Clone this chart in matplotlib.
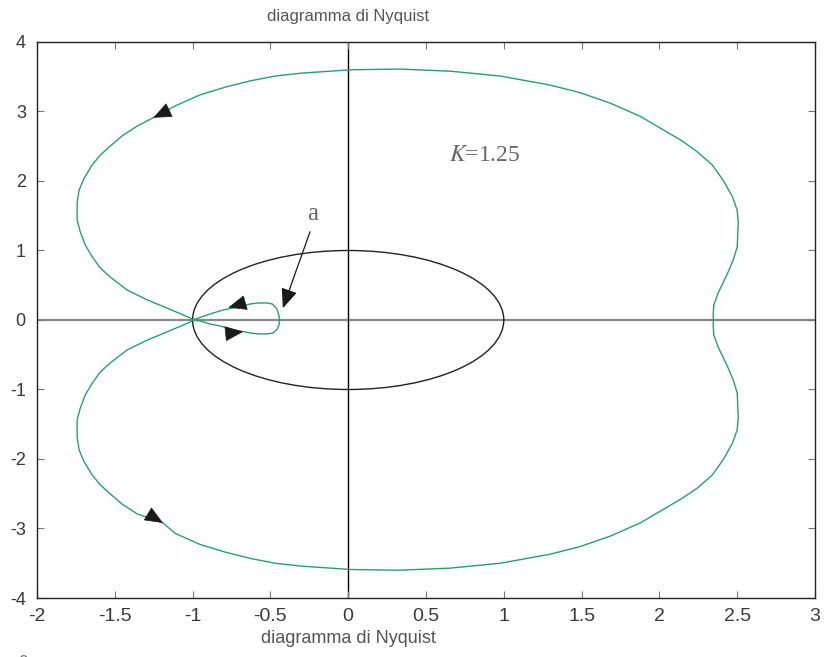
import matplotlib.pyplot as plt
from matplotlib.patches import Circle

# Data
upper_x = [-1.0, -1.015, -1.163, -1.292, -1.42, -1.53, -1.594, -1.645, -1.69, -1.722, -1.742,
           -1.742, -1.729, -1.697, -1.645, -1.594, -1.530, -1.452, -1.356, -1.253, -1.112,
           -0.951, -0.790, -0.630, -0.469, -0.308, 0.013, 0.334, 0.656, 0.977, 1.298, 1.491,
           1.684, 1.877, 2.037, 2.15, 2.243, 2.34, 2.41, 2.47, 2.50, 2.507, 2.50, 2.474, 2.44,
           2.378, 2.35, 2.346, 2.346]
upper_y = [0.0, 0.03, 0.17, 0.29, 0.43, 0.62, 0.75, 0.91, 1.08, 1.27, 1.44,
           1.68, 1.87, 2.04, 2.23, 2.37, 2.50, 2.65, 2.79, 2.91, 3.08,
           3.24, 3.35, 3.44, 3.51, 3.55, 3.60, 3.61, 3.58, 3.51, 3.38, 3.27,
           3.12, 2.93, 2.72, 2.57, 2.42, 2.23, 2.01, 1.77, 1.58, 1.40, 1.05, 0.86, 0.68,
           0.39, 0.22, 0.10, 0.0]
lower_x = [-1.0, -1.015, -1.163, -1.292, -1.42, -1.53, -1.594, -1.645, -1.69, -1.722, -1.742,
           -1.742, -1.729, -1.697, -1.645, -1.594, -1.530, -1.452, -1.356, -1.19, -1.112,
           -0.951, -0.790, -0.630, -0.469, -0.308, 0.013, 0.334, 0.656, 0.977, 1.298, 1.491,
           1.684, 1.877, 2.037, 2.15, 2.243, 2.34, 2.41, 2.47, 2.50, 2.507, 2.50, 2.474, 2.44,
           2.378, 2.35, 2.346, 2.346]
lower_y = [0.0, -0.03, -0.17, -0.29, -0.43, -0.62, -0.75, -0.91, -1.08, -1.27, -1.44,
           -1.68, -1.87, -2.04, -2.23, -2.37, -2.50, -2.65, -2.79, -2.92, -3.07,
           -3.23, -3.34, -3.43, -3.50, -3.54, -3.59, -3.60, -3.57, -3.50, -3.37, -3.26,
           -3.11, -2.92, -2.71, -2.56, -2.42, -2.23, -2.01, -1.77, -1.58, -1.40, -1.05, -0.86, -0.68,
           -0.39, -0.22, -0.10, 0.0]
loop_x = [-1.0, -0.868, -0.803, -0.739, -0.681, -0.630, -0.578, -0.521, -0.488, -0.469, -0.456,
          -0.450, -0.443, -0.443, -0.443, -0.456, -0.482, -0.521, -0.578, -0.630, -0.694,
          -0.758, -0.823, -0.887, -0.951, -1.0]
loop_y = [0.0, 0.10, 0.144, 0.173, 0.20, 0.23, 0.245, 0.245, 0.23, 0.19, 0.144,
          0.10, 0.043, 0.0, -0.058, -0.13, -0.187, -0.20, -0.20, -0.187, -0.158,
          -0.13, -0.086, -0.058, -0.014, 0.0]

# direction arrows on the curve: (tail, tip)
curve_arrows = [((-1.15, 3.02), (-1.253, 2.91)),
                ((-1.28, -2.80), (-1.19, -2.92)),
                ((-0.675, 0.24), (-0.77, 0.18)),
                ((-0.76, -0.19), (-0.675, -0.17))]

green = '#22a463'
gray_txt = '#3a3a3a'
narrow = ['Liberation Sans Narrow', 'DejaVu Sans Condensed', 'Liberation Sans', 'DejaVu Sans']

fig = plt.figure(figsize=(8.27, 6.57), dpi=100)
ax = fig.add_axes([0.0447, 0.0898, 0.9408, 0.8463])

ax.axhline(0, color='#888888', lw=1.6, zorder=1)
ax.axvline(0, color='black', lw=1.0, zorder=1)

ax.add_patch(Circle((0, 0), 1.0, fill=False, edgecolor='#222222', lw=1.0, zorder=2))

ax.plot(upper_x, upper_y, color=green, lw=1.0, zorder=3)
ax.plot(lower_x, lower_y, color=green, lw=1.0, zorder=3)
ax.plot(loop_x, loop_y, color=green, lw=1.0, zorder=3)

for tail, tip in curve_arrows:
    ax.annotate('', xy=tip, xytext=tail,
                arrowprops=dict(arrowstyle='-|>,head_length=0.6,head_width=0.25',
                                mutation_scale=20, color='#1a1a1a', lw=0.5,
                                shrinkA=0, shrinkB=0), zorder=4)

# label "a" with arrow
ax.annotate('', xy=(-0.42, 0.17), xytext=(-0.245, 1.27),
            arrowprops=dict(arrowstyle='-|>,head_length=0.6,head_width=0.25',
                            mutation_scale=20, color='#1a1a1a', lw=0.9,
                            shrinkA=0, shrinkB=0), zorder=4)
ax.text(-0.23, 1.52, 'a', family='Liberation Serif', fontsize=18, color='#666666',
        ha='center', va='center')
ax.text(0.65, 2.37, r'$K$=1.25', fontsize=17, color='#666666', ha='left', va='center',
        family='Liberation Serif', math_fontfamily='stix')

ax.set_xlim(-2, 3)
ax.set_ylim(-4, 4)
ax.set_xticks([-2, -1.5, -1, -0.5, 0, 0.5, 1, 1.5, 2, 2.5, 3])
ax.set_xticklabels(['-2', '-1.5', '-1', '-0.5', '0', '0.5', '1', '1.5', '2', '2.5', '3'])
ax.set_yticks([-4, -3, -2, -1, 0, 1, 2, 3, 4])
ax.set_yticklabels(['-4', '-3', '-2', '-1', '0', '1', '2', '3', '4'])
ax.tick_params(direction='in', length=5, width=0.8, color='#777777',
               top=True, right=True, labelcolor=gray_txt)
ax.tick_params(axis='x', pad=7)
ax.tick_params(axis='y', pad=8)
for lab in ax.get_xticklabels():
    lab.set_family(narrow)
    lab.set_fontsize(14)
for lab in ax.get_yticklabels():
    lab.set_family(narrow)
    lab.set_fontsize(13)
for sp in ax.spines.values():
    sp.set_linewidth(1.0)
    sp.set_color('#222222')

ax.set_title('diagramma di Nyquist', family=narrow, fontsize=12, color='#555555', pad=15, x=0.4)
ax.set_xlabel('diagramma di Nyquist', family=narrow, fontsize=13, color='#555555', labelpad=4)
ax.xaxis.label.set_x(0.4)
fig.text(0.027, -0.006, 'c', family=narrow, fontsize=13, color='#777777', ha='center', va='center')

fig.savefig('out.png', dpi=100)
